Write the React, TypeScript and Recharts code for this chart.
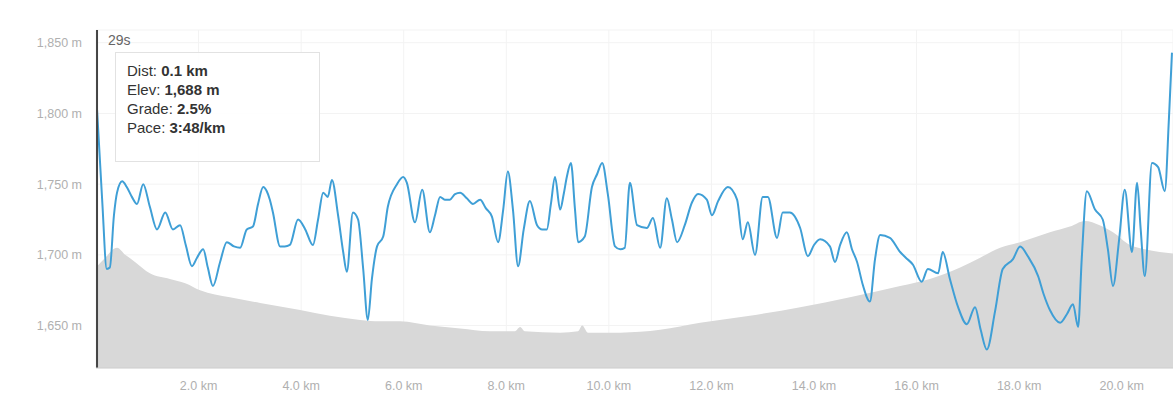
import { ComposedChart, Area, Line, XAxis, YAxis, CartesianGrid, ReferenceLine } from 'recharts'

// distance (km) / elevation (m) of the grey profile
const elevKm = [
  0, 0.18, 0.41, 0.57, 0.76, 1.05, 1.44, 1.74, 2.03, 2.61, 3.2, 3.98, 4.56, 5.15, 5.54, 5.93,
  6.51, 7.1, 7.68, 8.17, 8.27, 8.36, 9.05, 9.4, 9.48, 9.59, 10.22, 11.0, 11.78, 12.75, 13.73,
  14.7, 15.68, 16.26, 16.85, 17.24, 17.63, 18.02, 18.6, 18.99, 19.28, 19.57, 19.83, 20.16, 20.45,
  20.74, 21.0
]
const elevM = [
  1691, 1698, 1705, 1700, 1695, 1687, 1683, 1680, 1675, 1670, 1666, 1661, 1657, 1654, 1653, 1653,
  1650, 1648, 1646, 1646, 1649, 1646, 1645, 1646, 1650, 1645, 1645, 1647, 1652, 1657, 1663,
  1670, 1678, 1683, 1691, 1698, 1705, 1709, 1716, 1720, 1724, 1721, 1716, 1707, 1704,
  1702, 1701
]

// blue pace trace, read on the same scale as the elevation axis
const paceKm = [
  0.02, 0.12, 0.21, 0.27, 0.35, 0.41, 0.51, 0.6, 0.7, 0.8, 0.92, 1.05, 1.19, 1.35, 1.5, 1.64,
  1.75, 1.87, 1.97, 2.09, 2.18, 2.28, 2.42, 2.55, 2.69, 2.81, 2.94, 3.06, 3.16, 3.26, 3.33, 3.39, 3.45,
  3.59, 3.68, 3.78, 3.94, 4.08, 4.23, 4.33, 4.43, 4.52, 4.6, 4.72, 4.82, 4.89, 5.01, 5.11, 5.21, 5.3,
  5.38, 5.48, 5.6, 5.69, 5.87, 5.99, 6.06, 6.22, 6.36, 6.51, 6.61, 6.71, 6.8, 6.9, 7.0, 7.1, 7.23,
  7.35, 7.49, 7.6, 7.72, 7.84, 7.94, 8.03, 8.13, 8.23, 8.34, 8.46, 8.6, 8.7, 8.79, 8.87, 8.95,
  9.05, 9.12, 9.18, 9.26, 9.34, 9.4, 9.53, 9.67, 9.77, 9.87, 9.98, 10.12, 10.22, 10.31,
  10.41, 10.55, 10.74, 10.86, 11.0, 11.13, 11.23, 11.33, 11.48, 11.62, 11.74, 11.91, 12.01, 12.13,
  12.32, 12.5, 12.61, 12.71, 12.85, 13.0, 13.1, 13.28, 13.39, 13.53, 13.73, 13.88, 14.0, 14.12,
  14.31, 14.41, 14.51, 14.64, 14.74, 14.84, 14.95, 15.09, 15.19, 15.29, 15.48, 15.68, 15.79, 15.93,
  16.1, 16.22, 16.42, 16.51, 16.65, 16.81, 16.98, 17.14, 17.25, 17.37, 17.53, 17.68, 17.88, 18.02,
  18.17, 18.37, 18.48, 18.6, 18.8, 18.93, 19.05, 19.15, 19.22, 19.32, 19.48, 19.63, 19.73, 19.83,
  19.95, 20.06, 20.2, 20.3, 20.37, 20.45, 20.59, 20.71, 20.84, 20.92, 20.98
]
const paceVal = [
  1803, 1739, 1690, 1691, 1728, 1744, 1752, 1748, 1741, 1736, 1750, 1734, 1718, 1730, 1718, 1721,
  1707, 1692, 1698, 1704, 1691, 1678, 1695, 1709, 1706, 1705, 1718, 1720, 1736, 1748, 1745, 1739, 1730,
  1706, 1706, 1707, 1725, 1718, 1707, 1725, 1744, 1741, 1753, 1728, 1702, 1688, 1730, 1725, 1690, 1654,
  1683, 1706, 1713, 1734, 1750, 1755, 1751, 1723, 1746, 1716, 1728, 1741, 1739, 1739, 1743, 1744, 1740,
  1736, 1739, 1733, 1727, 1709, 1732, 1759, 1732, 1692, 1718, 1738, 1721, 1718, 1718, 1736, 1755,
  1732, 1743, 1755, 1765, 1732, 1709, 1713, 1748, 1757, 1765, 1743, 1706, 1704, 1705,
  1751, 1721, 1719, 1726, 1705, 1740, 1725, 1709, 1721, 1737, 1743, 1739, 1728, 1738,
  1748, 1739, 1711, 1723, 1700, 1741, 1741, 1712, 1730, 1730, 1719, 1699, 1707, 1711,
  1706, 1695, 1707, 1716, 1704, 1695, 1679, 1667, 1697, 1714, 1712, 1702, 1698, 1693,
  1681, 1690, 1687, 1702, 1683, 1663, 1651, 1663, 1647, 1633, 1660, 1690, 1697, 1706,
  1699, 1685, 1672, 1661, 1652, 1658, 1665, 1649, 1697, 1745, 1732, 1725, 1704, 1678,
  1711, 1746, 1702, 1751, 1718, 1685, 1765, 1762, 1745, 1796, 1843
]

const yTicks = [1650, 1700, 1750, 1800, 1850]
const xTicks = [2, 4, 6, 8, 10, 12, 14, 16, 18, 20]

const cursorKm = 0.02
const cursorLabel = '29s'
const tipRows = [
  ['Dist: ', '0.1 km'],
  ['Elev: ', '1,688 m'],
  ['Grade: ', '2.5%'],
  ['Pace: ', '3:48/km']
]

const elevData = elevKm.map((km, i) => ({ km, elev: elevM[i] }))
const paceData = paceKm.map((km, i) => ({ km, pace: paceVal[i] }))

const font = '"Helvetica Neue", Arial, "Liberation Sans", sans-serif'

export default function App() {
  return (
    <div style={{ position: 'absolute', left: 0, top: 0, width: 1173, height: 412, background: '#fff', fontFamily: font }}>
      <ComposedChart width={1173} height={412} margin={{ top: 30, right: 0, bottom: 14, left: 0 }}>
        <CartesianGrid stroke="#f3f3f3" />
        <XAxis
          dataKey="km"
          type="number"
          domain={[0, 21]}
          allowDataOverflow
          ticks={xTicks}
          tickFormatter={(v: number) => `${v.toFixed(1)} km`}
          tick={{ fill: '#b0b0b0', fontSize: 12.5, fontFamily: font }}
          tickLine={false}
          tickMargin={7}
          axisLine={{ stroke: '#cfcfcf' }}
          height={30}
        />
        <YAxis
          domain={[1620, 1859]}
          allowDataOverflow
          ticks={yTicks}
          tickFormatter={(v: number) => `${v.toLocaleString('en-US')} m`}
          tick={{ fill: '#b0b0b0', fontSize: 12.5, fontFamily: font }}
          tickLine={false}
          axisLine={false}
          tickSize={6}
          tickMargin={8}
          width={96}
        />
        <Area
          data={elevData}
          dataKey="elev"
          type="monotone"
          stroke="none"
          fill="#d8d8d8"
          fillOpacity={1}
          isAnimationActive={false}
        />
        <Line
          data={paceData}
          dataKey="pace"
          type="monotone"
          stroke="#3f9fd6"
          strokeWidth={2}
          dot={false}
          isAnimationActive={false}
        />
        <ReferenceLine x={cursorKm} stroke="#444" strokeWidth={2} />
      </ComposedChart>
      <div style={{ position: 'absolute', left: 108, top: 32, fontSize: 14, color: '#666' }}>{cursorLabel}</div>
      <div
        style={{
          position: 'absolute',
          left: 115,
          top: 52,
          width: 205,
          height: 110,
          border: '1px solid #e2e2e2',
          background: 'rgba(255,255,255,0.9)',
          boxSizing: 'border-box',
          padding: '8px 0 0 11px',
          fontSize: 15,
          lineHeight: '19px',
          color: '#333'
        }}
      >
        {tipRows.map(([k, v]) => (
          <div key={k}>
            {k}
            <b>{v}</b>
          </div>
        ))}
      </div>
    </div>
  )
}
